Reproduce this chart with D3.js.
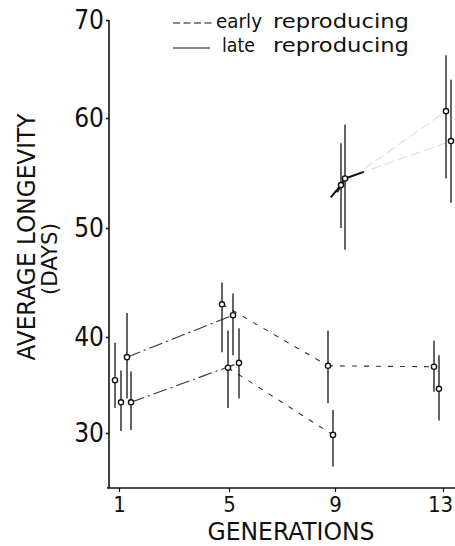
<!DOCTYPE html>
<html>
<head>
<meta charset="utf-8">
<script src="https://cdn.jsdelivr.net/npm/d3@7"></script>
<style>
  body { margin: 0; background: #fff; }
  svg { display: block; }
</style>
</head>
<body>
<div class="chart"></div>
<script>
// values
const generations = [1, 5, 9, 13];
const xTickLabels = ["1", "5", "9", "13"];
const yTicks = [30, 40, 50, 60, 70];

const early1 = [35.5, 43.0, 37.0, 36.9];
const early1Low = [32.6, 38.4, 33.1, 34.3];
const early1High = [39.4, 45.0, 40.6, 39.6];

const early2 = [33.2, 36.8, 29.8, 34.6];
const early2Low = [30.2, 32.6, 26.5, 31.3];
const early2High = [36.5, 40.6, 32.4, 38.1];

const late1 = [37.9, 42.0, 53.9, 60.7];
const late1Low = [33.6, 38.1, 50.0, 54.5];
const late1High = [42.2, 44.0, 57.7, 66.4];

const late2 = [33.2, 37.3, 54.5, 57.9];
const late2Low = [30.3, 33.6, 48.0, 52.3];
const late2High = [36.4, 40.8, 59.4, 63.9];

const legendLabels = [["early", "reproducing"], ["late", "reproducing"]];

const width = 455, height = 546;
const axisLeftX = 109, axisBottomY = 488, axisTopY = 20;
const font = "'DejaVu Sans Condensed', 'DejaVu Sans', sans-serif";

const series = [
  {key: "early1", mean: early1, low: early1Low, high: early1High},
  {key: "early2", mean: early2, low: early2Low, high: early2High},
  {key: "late1", mean: late1, low: late1Low, high: late1High},
  {key: "late2", mean: late2, low: late2Low, high: late2High}
];

// small horizontal shifts so the error bars don't overlap (px)
const shift = {
  early1: [-4, -7, -7, -9],
  early2: [2, -1, -2, -4],
  late1: [8, 4, 6, 3],
  late2: [12, 10, 10, 8]
};

// which connecting segments survive in the printed figure
const segments = [
  ["early1", 1, 2, "dash"], ["early1", 2, 3, "dash"], ["early2", 1, 2, "dash"],
  ["late1", 0, 1, "dashdot"], ["late2", 0, 1, "dashdot"],
  ["late1", 1, 2, "tail"], ["late2", 1, 2, "tail"],
  ["late1", 2, 3, "faint"], ["late2", 2, 3, "faint"], ["late2", 2, 3, "head"]
];

// the printed axis is slightly uneven, so map each tick where it sits
const x = d3.scaleLinear()
  .domain(generations)
  .range([119, 229, 335, 443]);

const y = d3.scaleLinear()
  .domain(yTicks)
  .range([433, 337, 228, 118, 20]);

const svg = d3.select(".chart")
  .append("svg")
    .attr("width", width)
    .attr("height", height)
    .style("font-family", font);

// axes
svg.append("line")
  .attr("x1", axisLeftX).attr("x2", axisLeftX)
  .attr("y1", axisTopY).attr("y2", axisBottomY)
  .attr("stroke", "#111").attr("stroke-width", 1.6);
svg.append("line")
  .attr("x1", axisLeftX - 2).attr("x2", width)
  .attr("y1", axisBottomY).attr("y2", axisBottomY)
  .attr("stroke", "#111").attr("stroke-width", 1.6);

const yAxis = svg.append("g")
  .attr("transform", `translate(${axisLeftX},0)`)
  .call(d3.axisLeft(y).tickValues(yTicks).tickSize(3).tickPadding(2))
  .call(g => g.select(".domain").remove());
yAxis.selectAll("text")
  .attr("font-size", 26).attr("font-family", font).attr("fill", "#111");
yAxis.selectAll("line").attr("stroke", "#111").attr("stroke-width", 1.6);

const xAxis = svg.append("g")
  .attr("transform", `translate(0,${axisBottomY})`)
  .call(d3.axisBottom(x).tickValues(generations).tickSize(4).tickPadding(4)
    .tickFormat((d, i) => xTickLabels[i]))
  .call(g => g.select(".domain").remove());
xAxis.selectAll("text")
  .attr("font-size", 22).attr("font-family", font).attr("fill", "#111")
  .attr("dx", (d, i) => i === generations.length - 1 ? -3 : 0);
xAxis.selectAll("line").attr("stroke", "#111").attr("stroke-width", 1.2);

// axis titles
svg.append("text")
  .attr("transform", "translate(35,237) rotate(-90)")
  .attr("text-anchor", "middle")
  .attr("font-size", 25)
  .attr("textLength", 247).attr("lengthAdjust", "spacingAndGlyphs")
  .attr("fill", "#111")
  .text("AVERAGE LONGEVITY");
svg.append("text")
  .attr("transform", "translate(57,259) rotate(-90)")
  .attr("text-anchor", "middle")
  .attr("font-size", 22)
  .attr("textLength", 72).attr("lengthAdjust", "spacingAndGlyphs")
  .attr("fill", "#111")
  .text("(DAYS)");
svg.append("text")
  .attr("x", 291).attr("y", 540)
  .attr("text-anchor", "middle")
  .attr("font-size", 25)
  .attr("textLength", 167).attr("lengthAdjust", "spacingAndGlyphs")
  .attr("fill", "#111")
  .text("GENERATIONS");

// legend
const legend = svg.append("g");
legend.append("line")
  .attr("x1", 173).attr("x2", 214).attr("y1", 23).attr("y2", 23)
  .attr("stroke", "#111").attr("stroke-width", 1.2).attr("stroke-dasharray", "7,3.5");
legend.append("line")
  .attr("x1", 173).attr("x2", 210).attr("y1", 48).attr("y2", 48)
  .attr("stroke", "#111").attr("stroke-width", 1.2);
[[216, 28], [222, 52]].forEach(([lx, ly], i) => {
  legend.append("text")
    .attr("x", lx).attr("y", ly)
    .attr("font-size", 20).attr("fill", "#111")
    .attr("textLength", i === 0 ? 46 : 33).attr("lengthAdjust", "spacingAndGlyphs")
    .text(legendLabels[i][0]);
  legend.append("text")
    .attr("x", 273).attr("y", ly)
    .attr("font-size", 20).attr("fill", "#111")
    .attr("textLength", 136).attr("lengthAdjust", "spacingAndGlyphs")
    .text(legendLabels[i][1]);
});

const px = (s, i) => x(generations[i]) + shift[s.key][i];
const byKey = Object.fromEntries(series.map(s => [s.key, s]));
const line = d3.line();

// connecting lines
const lineG = svg.append("g").attr("fill", "none");
segments.forEach(([key, a, b, style]) => {
  const s = byKey[key];
  const pts = [[px(s, a), y(s.mean[a])], [px(s, b), y(s.mean[b])]];
  const p = lineG.append("path").attr("d", line(pts));
  const len = p.node().getTotalLength();
  if (style === "dash") {
    p.attr("stroke", "#333").attr("stroke-width", 1.1).attr("stroke-dasharray", "5,7");
  } else if (style === "dashdot") {
    p.attr("stroke", "#333").attr("stroke-width", 1.1).attr("stroke-dasharray", "14,4,2,4");
  } else if (style === "tail") {
    p.attr("stroke", "#111").attr("stroke-width", 2).attr("stroke-dasharray", `0,${len - 16},16`);
  } else if (style === "head") {
    p.attr("stroke", "#111").attr("stroke-width", 2).attr("stroke-dasharray", `20,${len}`);
  } else {
    p.attr("stroke", "#ccc").attr("stroke-width", 0.8).attr("stroke-dasharray", "10,4");
  }
});

// error bars and points
series.forEach(s => {
  const g = svg.append("g");
  g.selectAll("line")
    .data(generations)
    .join("line")
      .attr("x1", (d, i) => px(s, i))
      .attr("x2", (d, i) => px(s, i))
      .attr("y1", (d, i) => y(s.low[i]))
      .attr("y2", (d, i) => y(s.high[i]))
      .attr("stroke", "#111")
      .attr("stroke-width", 1.3);
  g.selectAll("circle")
    .data(generations)
    .join("circle")
      .attr("cx", (d, i) => px(s, i))
      .attr("cy", (d, i) => y(s.mean[i]))
      .attr("r", 2.6)
      .attr("fill", "#fff")
      .attr("stroke", "#111")
      .attr("stroke-width", 1.4);
});
</script>
</body>
</html>
